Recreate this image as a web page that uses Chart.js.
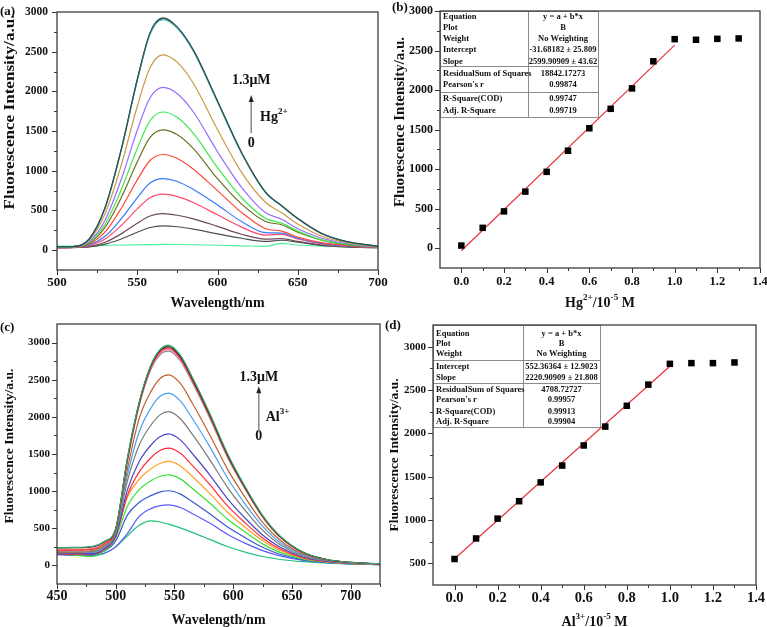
<!DOCTYPE html>
<html>
<head>
<meta charset="utf-8">
<script src="https://cdn.jsdelivr.net/npm/chart.js@4.4.1/dist/chart.umd.min.js"></script>
<style>
html, body { margin: 0; padding: 0; background: #fff; }
#wrap { position: relative; width: 767px; height: 627px; overflow: hidden; }
canvas { position: absolute; }
</style>
</head>
<body>
<div id="wrap">
  <canvas id="ca" width="392" height="315" style="left:0;top:0"></canvas>
  <canvas id="cb" width="382" height="315" style="left:385px;top:0"></canvas>
  <canvas id="cc" width="392" height="312" style="left:0;top:315px"></canvas>
  <canvas id="cd" width="382" height="312" style="left:385px;top:315px"></canvas>
</div>
<script>
// (a) emission spectra, Hg2+ titration
const wlA = [500, 510, 520, 530, 540, 550, 558, 566, 575, 585, 600, 615, 630, 640, 650, 665, 680, 700];
const hgSpectra = [
  [40, 45, 140, 540, 1270, 2150, 2740, 2925, 2810, 2520, 1880, 1230, 730, 560, 400, 210, 110, 50],
  [38, 44, 135, 530, 1255, 2135, 2720, 2905, 2795, 2505, 1865, 1220, 722, 555, 395, 207, 108, 50],
  [42, 46, 138, 535, 1262, 2142, 2730, 2915, 2802, 2512, 1872, 1225, 726, 558, 398, 208, 109, 48],
  [35, 42, 125, 460, 1070, 1810, 2300, 2460, 2365, 2100, 1520, 980, 600, 470, 330, 175, 95, 45],
  [35, 40, 105, 380, 890, 1510, 1920, 2050, 1970, 1740, 1240, 790, 470, 390, 270, 150, 85, 40],
  [35, 40, 95, 330, 760, 1280, 1630, 1740, 1670, 1470, 1040, 660, 400, 340, 240, 130, 75, 40],
  [35, 40, 85, 290, 660, 1110, 1420, 1515, 1455, 1280, 900, 580, 360, 320, 225, 125, 70, 40],
  [30, 35, 75, 230, 525, 885, 1130, 1205, 1155, 1020, 750, 475, 270, 240, 165, 95, 60, 35],
  [30, 35, 65, 175, 395, 660, 845, 900, 865, 765, 570, 360, 220, 215, 150, 85, 55, 35],
  [30, 35, 55, 140, 310, 520, 660, 705, 675, 600, 445, 290, 190, 200, 140, 80, 50, 35],
  [30, 35, 45, 100, 205, 340, 430, 460, 440, 395, 300, 200, 140, 145, 110, 65, 45, 30],
  [30, 33, 40, 75, 140, 225, 285, 305, 295, 265, 205, 150, 110, 125, 100, 60, 40, 30],
  [50, 52, 55, 60, 65, 68, 70, 72, 71, 68, 62, 55, 48, 85, 65, 50, 42, 38]
];
const hgColors = ['#2d4d4d', '#55c4c4', '#1c2e2e', '#c99a44', '#9a6cff', '#3ee84a', '#6f6f22', '#ff4a36', '#3a78ff', '#ff4c68', '#6a4a58', '#505050', '#48f0a0'];

// (b) Hg2+ calibration
const hgConc = [0, 0.1, 0.2, 0.3, 0.4, 0.5, 0.6, 0.7, 0.8, 0.9, 1.0, 1.1, 1.2, 1.3];
const hgIntensity = [34, 258, 466, 716, 966, 1233, 1517, 1763, 2021, 2364, 2644, 2636, 2648, 2653];
const hgFitX = [0, 1.0];
const hgFitY = [-31.68, 2568.23];
const hgTableLabels = ['Equation', 'Plot', 'Weight', 'Intercept', 'Slope', 'ResidualSum of Squares', "Pearson's r", 'R-Square(COD)', 'Adj. R-Square'];
const hgTableValues = ['y = a + b*x', 'B', 'No Weighting', '-31.68182 ± 25.809', '2599.90909 ± 43.62', '18842.17273', '0.99874', '0.99747', '0.99719'];

// (c) emission spectra, Al3+ titration
const wlC = [450, 465, 480, 490, 500, 510, 520, 530, 538, 545, 555, 565, 580, 595, 610, 625, 640, 660, 680, 700, 725];
const alSpectra = [
  [240, 242, 255, 320, 500, 1450, 2200, 2700, 2910, 2965, 2830, 2540, 2050, 1510, 1065, 675, 395, 175, 80, 42, 22],
  [235, 238, 250, 315, 495, 1440, 2190, 2690, 2895, 2945, 2810, 2520, 2030, 1495, 1055, 668, 390, 172, 78, 40, 20],
  [200, 205, 215, 290, 480, 1420, 2170, 2670, 2875, 2925, 2790, 2500, 2015, 1480, 1045, 660, 385, 170, 76, 40, 20],
  [210, 212, 225, 295, 485, 1425, 2165, 2660, 2860, 2905, 2775, 2485, 2000, 1470, 1038, 655, 380, 168, 75, 38, 20],
  [190, 192, 200, 275, 470, 1400, 2150, 2640, 2840, 2885, 2755, 2470, 1985, 1460, 1030, 650, 378, 166, 74, 38, 20],
  [180, 180, 190, 260, 460, 1300, 1980, 2340, 2520, 2565, 2450, 2190, 1760, 1300, 920, 580, 340, 150, 70, 36, 18],
  [175, 175, 180, 245, 445, 1220, 1800, 2120, 2280, 2320, 2215, 1985, 1600, 1180, 830, 530, 310, 140, 65, 34, 18],
  [170, 170, 175, 235, 430, 1140, 1620, 1890, 2030, 2070, 1975, 1770, 1425, 1055, 745, 475, 280, 125, 60, 32, 16],
  [160, 158, 160, 220, 400, 1020, 1400, 1620, 1735, 1770, 1690, 1510, 1220, 900, 640, 410, 245, 110, 55, 30, 16],
  [155, 150, 155, 210, 390, 950, 1260, 1450, 1550, 1580, 1510, 1350, 1090, 805, 575, 370, 220, 100, 50, 28, 15],
  [215, 215, 220, 250, 420, 920, 1160, 1300, 1375, 1400, 1340, 1200, 970, 720, 515, 335, 200, 95, 48, 27, 15],
  [165, 140, 120, 190, 370, 800, 1020, 1140, 1200, 1220, 1165, 1040, 840, 625, 450, 290, 175, 85, 45, 25, 14],
  [150, 148, 150, 190, 330, 680, 850, 940, 990, 1005, 960, 860, 695, 520, 375, 245, 150, 75, 40, 22, 12],
  [145, 140, 140, 160, 250, 430, 660, 765, 805, 815, 780, 700, 570, 420, 300, 200, 128, 68, 38, 20, 12],
  [150, 140, 135, 160, 250, 400, 540, 600, 585, 555, 505, 445, 350, 255, 180, 120, 80, 50, 32, 20, 12]
];
const alColors = ['#3aa36a', '#222222', '#ff3030', '#ff7fa0', '#8a8a8a', '#c0602a', '#4aa0f0', '#7a7a7a', '#4646c8', '#ff2a3a', '#ffa024', '#38e038', '#3a5ad0', '#5a5aff', '#22c07a'];

// (d) Al3+ calibration
const alConc = [0, 0.1, 0.2, 0.3, 0.4, 0.5, 0.6, 0.7, 0.8, 0.9, 1.0, 1.1, 1.2, 1.3];
const alIntensity = [550, 787, 1016, 1217, 1434, 1628, 1860, 2078, 2318, 2562, 2802, 2810, 2810, 2818];
const alFitX = [0, 1.0];
const alFitY = [552.36, 2773.27];
const alTableLabels = ['Equation', 'Plot', 'Weight', 'Intercept', 'Slope', 'ResidualSum of Squares', "Pearson's r", 'R-Square(COD)', 'Adj. R-Square'];
const alTableValues = ['y = a + b*x', 'B', 'No Weighting', '552.36364 ± 12.9023', '2220.90909 ± 21.808', '4708.72727', '0.99957', '0.99913', '0.99904'];

// ticks
const wlTicksA = [500, 550, 600, 650, 700];
const wlMinorA = [525, 575, 625, 675];
const wlTicksC = [450, 500, 550, 600, 650, 700];
const wlMinorC = [475, 525, 575, 625, 675, 725];
const concTicks = [0, 0.2, 0.4, 0.6, 0.8, 1.0, 1.2, 1.4];
const concMinor = [0.1, 0.3, 0.5, 0.7, 0.9, 1.1, 1.3];
const intTicks = [0, 500, 1000, 1500, 2000, 2500, 3000];
const intMinor = [250, 750, 1250, 1750, 2250, 2750];
const intTicksD = [500, 1000, 1500, 2000, 2500, 3000];
const intMinorD = [750, 1250, 1750, 2250, 2750];

const yTitle = 'Fluorescence Intensity/a.u.';
const SERIF = '"Liberation Serif", "Times New Roman", serif';

function rich(ctx, parts, x, y, size, align) {
  const f = sup => 'bold ' + (sup ? size * 0.65 : size) + 'px ' + SERIF;
  let w = 0;
  parts.forEach(p => { ctx.font = f(p[1]); w += ctx.measureText(p[0]).width; });
  let cx = align === 'center' ? x - w / 2 : x;
  ctx.textAlign = 'left';
  ctx.textBaseline = 'middle';
  parts.forEach(p => {
    ctx.font = f(p[1]);
    ctx.fillText(p[0], cx, p[1] ? y - size * 0.38 : y);
    cx += ctx.measureText(p[0]).width;
  });
}

function drawTable(ctx, a, t) {
  const x0 = a.left, y0 = a.top, w = t.w1 + t.w2;
  ctx.save();
  ctx.fillStyle = '#fff';
  ctx.fillRect(x0, y0, w, t.h);
  ctx.strokeStyle = '#8c8c8c';
  ctx.lineWidth = 1;
  ctx.strokeRect(x0 + 0.5, y0 + 0.5, w, t.h);
  ctx.beginPath();
  ctx.moveTo(x0 + t.w1 + 0.5, y0); ctx.lineTo(x0 + t.w1 + 0.5, y0 + t.h);
  t.lines.forEach(l => { ctx.moveTo(x0, y0 + l + 0.5); ctx.lineTo(x0 + w, y0 + l + 0.5); });
  ctx.stroke();
  ctx.fillStyle = '#111';
  ctx.font = 'bold ' + t.size + 'px ' + SERIF;
  ctx.textBaseline = 'middle';
  t.labels.forEach((s, i) => { ctx.textAlign = 'left'; ctx.fillText(s, x0 + 3, y0 + t.rows[i]); });
  t.values.forEach((s, i) => { ctx.textAlign = 'center'; ctx.fillText(s, x0 + t.w1 + t.w2 / 2, y0 + t.rows[i]); });
  ctx.restore();
}

const deco = {
  id: 'deco',
  beforeDatasetsDraw(chart, args, o) {
    if (o.table) drawTable(chart.ctx, chart.chartArea, o.table);
  },
  afterDraw(chart, args, o) {
    const ctx = chart.ctx, a = chart.chartArea, sx = chart.scales.x, sy = chart.scales.y;
    ctx.save();
    ctx.strokeStyle = '#333';
    ctx.lineWidth = 1;
    ctx.beginPath();
    const tx = (v, len) => { const p = Math.round(sx.getPixelForValue(v)) + 0.5; ctx.moveTo(p, a.bottom); ctx.lineTo(p, a.bottom + len); };
    const ty = (v, len) => { const p = Math.round(sy.getPixelForValue(v)) + 0.5; ctx.moveTo(a.left, p); ctx.lineTo(a.left - len, p); };
    sx.ticks.forEach(t => tx(t.value, 5));
    o.xMinor.forEach(v => tx(v, 3));
    sy.ticks.forEach(t => ty(t.value, 5));
    o.yMinor.forEach(v => ty(v, 3));
    ctx.stroke();
    ctx.strokeStyle = '#3c3c3c';
    ctx.lineWidth = 1.3;
    ctx.strokeRect(a.left, a.top, a.right - a.left, a.bottom - a.top);

    ctx.fillStyle = '#111';
    rich(ctx, o.xTitle, (a.left + a.right) / 2, o.xTitleY, 14, 'center');

    ctx.save();
    ctx.translate(o.yTitleX, o.yTitleMid);
    ctx.rotate(-Math.PI / 2);
    ctx.font = 'bold ' + o.yTitleSize + 'px ' + SERIF;
    const w = ctx.measureText(yTitle).width;
    ctx.scale(o.yTitleLen / w, 1);
    ctx.textAlign = 'center';
    ctx.textBaseline = 'middle';
    ctx.fillText(yTitle, 0, 0);
    ctx.restore();

    ctx.font = 'bold 13px ' + SERIF;
    ctx.textAlign = 'left';
    ctx.textBaseline = 'middle';
    ctx.fillText(o.letter, o.letterX, o.letterY);

    if (o.note) {
      const n = o.note, px = sx.getPixelForValue(n.x);
      ctx.font = 'bold 14px ' + SERIF;
      ctx.textAlign = 'center';
      ctx.fillText('1.3μM', px, sy.getPixelForValue(n.yTop));
      ctx.fillText('0', px, sy.getPixelForValue(n.yZero));
      const y1 = sy.getPixelForValue(n.yFrom), y2 = sy.getPixelForValue(n.yTo);
      ctx.strokeStyle = '#909090';
      ctx.lineWidth = 1.6;
      ctx.beginPath();
      ctx.moveTo(px, y1); ctx.lineTo(px, y2 + 5);
      ctx.stroke();
      ctx.fillStyle = '#222';
      ctx.beginPath();
      ctx.moveTo(px, y2); ctx.lineTo(px - 2.5, y2 + 7); ctx.lineTo(px + 2.5, y2 + 7);
      ctx.closePath();
      ctx.fill();
      ctx.fillStyle = '#111';
      rich(ctx, n.ion, sx.getPixelForValue(n.xIon), sy.getPixelForValue(n.yIon), 14, 'left');
    }
    ctx.restore();
  }
};

function makeChart(id, datasets, p) {
  const tickFont = s => ({ family: SERIF, weight: 'bold', size: s });
  return new Chart(document.getElementById(id), {
    type: 'line',
    data: { datasets: datasets },
    options: {
      responsive: false,
      animation: false,
      events: [],
      layout: { padding: p.pad },
      plugins: { legend: { display: false }, tooltip: { enabled: false }, deco: p.deco },
      scales: {
        x: {
          type: 'linear', min: p.xMin, max: p.xMax,
          grid: { display: false, drawTicks: false }, border: { display: false },
          ticks: { padding: p.xPad, color: '#111', font: tickFont(p.xFont), maxRotation: 0, autoSkip: false,
                   callback: p.xFmt || (v => String(v)) },
          afterBuildTicks: s => { s.ticks = p.xTicks.map(v => ({ value: v })); },
          afterFit: s => { s.height = p.xH; s.paddingLeft = 0; s.paddingRight = 0; }
        },
        y: {
          type: 'linear', min: p.yMin, max: p.yMax,
          grid: { display: false, drawTicks: false }, border: { display: false },
          ticks: { padding: p.yPad, color: '#111', font: tickFont(p.yFont), autoSkip: false, callback: v => String(v) },
          afterBuildTicks: s => { s.ticks = p.yTicks.map(v => ({ value: v })); },
          afterFit: s => { s.width = p.yW; s.paddingTop = 0; s.paddingBottom = 0; }
        }
      }
    },
    plugins: [deco]
  });
}

function spectra(xs, rows, colors) {
  return rows.map((r, i) => ({
    data: r.map((v, j) => ({ x: xs[j], y: v })),
    borderColor: colors[i], borderWidth: 1.2, pointRadius: 0,
    cubicInterpolationMode: 'monotone', fill: false
  }));
}

function calib(conc, vals, fx, fy) {
  return [
    { data: conc.map((c, i) => ({ x: c, y: vals[i] })), showLine: false, pointStyle: 'rect',
      pointRadius: 4.6, backgroundColor: '#000', borderColor: '#000', borderWidth: 0, order: 0 },
    { data: fx.map((x, i) => ({ x: x, y: fy[i] })), borderColor: '#e8323c', borderWidth: 1.2,
      pointRadius: 0, order: 1 }
  ];
}

makeChart('ca', spectra(wlA, hgSpectra, hgColors), {
  pad: { left: 0, top: 12, right: 14, bottom: 0 },
  xMin: 500, xMax: 700, xTicks: wlTicksA, xH: 45, xPad: 5, xFont: 13,
  yMin: -250, yMax: 3000, yTicks: intTicks, yW: 57, yPad: 9, yFont: 11.5,
  deco: {
    xMinor: wlMinorA, yMinor: intMinor,
    xTitle: [['Wavelength/nm']], xTitleY: 303,
    yTitleX: 10, yTitleMid: 112, yTitleLen: 195, yTitleSize: 14,
    letter: '(a)', letterX: 0, letterY: 12,
    note: { x: 621, yTop: 2142, yFrom: 1474, yTo: 1953, yZero: 1348, xIon: 626.5, yIon: 1676, ion: [['Hg'], ['2+', true]] }
  }
});

makeChart('cb', calib(hgConc, hgIntensity, hgFitX, hgFitY), {
  pad: { left: 0, top: 11, right: 7, bottom: 0 },
  xMin: -0.1, xMax: 1.4, xTicks: concTicks, xH: 47, xPad: 6, xFont: 12.5, xFmt: v => v.toFixed(1),
  yMin: -250, yMax: 3000, yTicks: intTicks, yW: 55, yPad: 7, yFont: 12,
  deco: {
    xMinor: concMinor, yMinor: intMinor,
    xTitle: [['Hg'], ['2+', true], ['/10'], ['-5', true], [' M']], xTitleY: 303,
    yTitleX: 15, yTitleMid: 122, yTitleLen: 170, yTitleSize: 14,
    letter: '(b)', letterX: 7, letterY: 8,
    table: { labels: hgTableLabels, values: hgTableValues, w1: 88, w2: 70, h: 106, size: 8.5,
             rows: [6, 17, 28, 39, 50.5, 63, 74, 87.5, 100], lines: [55, 81] }
  }
});

makeChart('cc', spectra(wlC, alSpectra, alColors), {
  pad: { left: 0, top: 9, right: 12, bottom: 0 },
  xMin: 450, xMax: 725, xTicks: wlTicksC, xH: 43, xPad: 4, xFont: 14,
  yMin: -250, yMax: 3250, yTicks: intTicks, yW: 57, yPad: 7, yFont: 11,
  deco: {
    xMinor: wlMinorC, yMinor: intMinor,
    xTitle: [['Wavelength/nm']], xTitleY: 305,
    yTitleX: 10, yTitleMid: 131, yTitleLen: 155, yTitleSize: 13,
    letter: '(c)', letterX: 0, letterY: 13,
    note: { x: 621.8, yTop: 2532, yFrom: 1791, yTo: 2411, yZero: 1738, xIon: 627.7, yIon: 1994, ion: [['Al'], ['3+', true]] }
  }
});

makeChart('cd', calib(alConc, alIntensity, alFitX, alFitY), {
  pad: { left: 0, top: 10, right: 11, bottom: 0 },
  xMin: -0.1, xMax: 1.4, xTicks: concTicks, xH: 42, xPad: 4.5, xFont: 14.5, xFmt: v => v.toFixed(1),
  yMin: 250, yMax: 3250, yTicks: intTicksD, yW: 48, yPad: 7, yFont: 11,
  deco: {
    xMinor: concMinor, yMinor: intMinorD,
    xTitle: [['Al'], ['3+', true], ['/10'], ['-5', true], [' M']], xTitleY: 307,
    yTitleX: 10, yTitleMid: 140, yTitleLen: 153, yTitleSize: 13,
    letter: '(d)', letterX: 0, letterY: 11,
    table: { labels: alTableLabels, values: alTableValues, w1: 90, w2: 77, h: 102, size: 8.5,
             rows: [9, 18.5, 28.5, 41.5, 53, 65, 75, 87, 97], lines: [35, 58] }
  }
});
</script>
</body>
</html>
